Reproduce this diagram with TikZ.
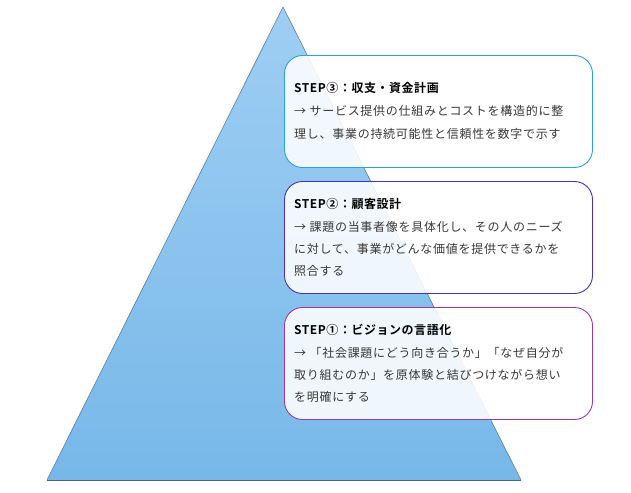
\documentclass[tikz,border=0pt]{standalone}
\usepackage{fontspec}
\newfontfamily\jp[LetterSpace=6]{Noto Sans CJK JP}
\newfontfamily\jpb[LetterSpace=4.5]{Noto Sans CJK JP Bold}
\definecolor{triTop}{HTML}{9FCEF3}
\definecolor{triBot}{HTML}{77B8E9}
\definecolor{triEdge}{HTML}{5C7E9C}
\definecolor{cThree}{HTML}{2AA3D8}
\definecolor{cTwo}{HTML}{4A30C0}
\definecolor{cOne}{HTML}{A0399E}
\definecolor{bodyc}{HTML}{383838}
\begin{document}
\begin{tikzpicture}[x=1pt,y=-1pt,
  stepbox/.style={fill=white,fill opacity=0.88,rounded corners=18pt,line width=0.9pt},
  ttl/.style={anchor=base west,inner sep=0pt,font=\jpb\fontsize{12}{14}\selectfont,text=black},
  bdy/.style={anchor=base west,inner sep=0pt,font=\jp\fontsize{12}{14}\selectfont,text=bodyc}]
\useasboundingbox (0,0) rectangle (631,492);
\shade[top color=triTop,bottom color=triBot] (283,7) -- (521,480) -- (47,480) -- cycle;
\draw[triEdge,line width=0.6pt] (47,480) -- (283,7) -- (521,480);
\draw[triEdge!80!black,line width=0.9pt] (47,480) -- (521,480);
\draw[stepbox,draw=cThree] (284.5,55.5) rectangle (592.5,167.5);
\draw[stepbox,draw=cTwo] (284.5,181.5) rectangle (592.5,293.5);
\draw[stepbox,draw=cOne] (284.5,307.5) rectangle (592.5,419.5);
% STEP 3
\node[ttl] (t3) at (294,93) {STEP③：収支・資金計画};
\node[bdy] (t3a) at (294,116) {→ サービス提供の仕組みとコストを構造的に整};
\node[bdy] (t3b) at (294,138) {理し、事業の持続可能性と信頼性を数字で示す};
% STEP 2
\node[ttl] (t2) at (294,208) {STEP②：顧客設計};
\node[bdy] (t2a) at (294,231) {→ 課題の当事者像を具体化し、その人のニーズ};
\node[bdy] (t2b) at (294,253) {に対して、事業がどんな価値を提供できるかを};
\node[bdy] (t2c) at (294,275) {照合する};
% STEP 1
\node[ttl] (t1) at (294,334) {STEP①：ビジョンの言語化};
\node[bdy] (t1a) at (294,357) {→ 「社会課題にどう向き合うか」「なぜ自分が};
\node[bdy] (t1b) at (294,379) {取り組むのか」を原体験と結びつけながら想い};
\node[bdy] (t1c) at (294,401) {を明確にする};
\end{tikzpicture}
\end{document}
